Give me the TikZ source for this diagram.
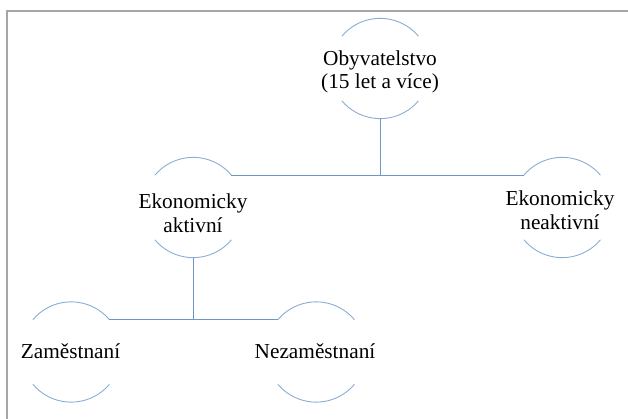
\documentclass[tikz,border=0pt]{standalone}
\usepackage{fontspec}
\setmainfont{Liberation Serif}
\definecolor{arcblue}{HTML}{8AADD3}
\definecolor{lineblue}{HTML}{6F97C6}
\definecolor{framegray}{HTML}{A6A6A6}
\begin{document}
\begin{tikzpicture}[x=1pt,y=1pt,
  ring/.style={circle,minimum size=100pt,inner sep=0pt},
  lbl/.style={align=center,inner sep=0pt,font=\fontsize{21.3}{23.5}\selectfont},
  arcline/.style={draw=arcblue,line width=0.9pt},
  conn/.style={draw=lineblue,line width=1pt}]
\useasboundingbox (0,0) rectangle (628,419);
\draw[framegray,line width=1.3pt] (7,0) -- (7,408) -- (628,408);
% rings
\node[ring] (o) at (380,350.5) {};
\node[ring] (a) at (193,211.5) {};
\node[ring] (n) at (562,211.5) {};
\node[ring] (z) at (71,67) {};
\node[ring] (u) at (316,67) {};
\foreach \r in {o,a,n,z,u}{
  \draw[arcline] (\r.40) arc[start angle=40,end angle=140,radius=50pt];
  \draw[arcline] (\r.-40) arc[start angle=-40,end angle=-140,radius=50pt];
}
% labels
\node[lbl] (ot) at (380,347) {Obyvatelstvo\\(15 let a více)};
\node[lbl] (at) at (193,206) {Ekonomicky\\aktivní};
\node[lbl] (nt) at (560,209) {Ekonomicky\\neaktivní};
\node[lbl] (zt) at (70.5,68) {Zaměstnaní};
\node[lbl] (ut) at (315,68) {Nezaměstnaní};
% connectors
\draw[conn] (o.south) -- (o.south |- a.40);
\draw[conn] (a.40) -- (n.140);
\draw[conn] (a.south) -- (a.south |- z.40);
\draw[conn] (z.40) -- (u.140);
\end{tikzpicture}
\end{document}
